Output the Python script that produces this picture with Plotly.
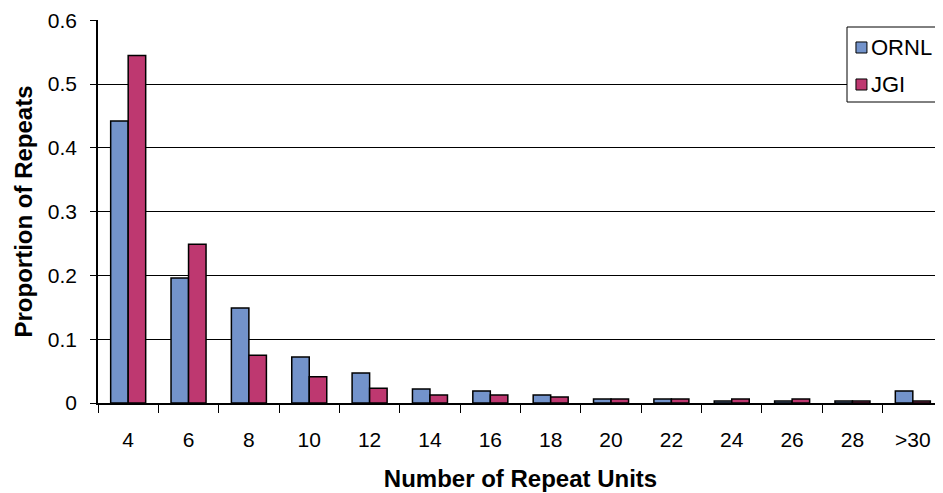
import plotly.graph_objects as go

categories = ["4", "6", "8", "10", "12", "14", "16", "18", "20", "22", "24", "26", "28", ">30"]
ornl = [0.442, 0.196, 0.149, 0.072, 0.047, 0.022, 0.019, 0.0125, 0.0063, 0.0063, 0.003, 0.003, 0.003, 0.019]
jgi = [0.545, 0.249, 0.075, 0.041, 0.023, 0.0125, 0.0125, 0.0094, 0.0063, 0.0063, 0.0063, 0.0063, 0.003, 0.003]
y_ticks = [0, 0.1, 0.2, 0.3, 0.4, 0.5, 0.6]
y_labels = ["0", "0.1", "0.2", "0.3", "0.4", "0.5", "0.6"]
series_names = ["ORNL", "JGI"]

FONT = "Liberation Sans, Arial, sans-serif"
COL_ORNL = "#7393CB"
COL_JGI = "#BE3870"

fig = go.Figure()
fig.add_trace(go.Bar(x=categories, y=ornl, name=series_names[0],
                     marker=dict(color=COL_ORNL, line=dict(color="black", width=1.5))))
fig.add_trace(go.Bar(x=categories, y=jgi, name=series_names[1],
                     marker=dict(color=COL_JGI, line=dict(color="black", width=1.5))))

# manual legend (box, swatches, labels) in paper coordinates
shapes = [
    dict(type="rect", xref="paper", yref="paper", x0=0.8864, x1=1.02, y0=0.7859, y1=0.9817,
         line=dict(color="black", width=1), fillcolor="white", layer="above"),
    dict(type="rect", xref="paper", yref="paper", x0=0.897, x1=0.910, y0=0.9138, y1=0.9426,
         line=dict(color="black", width=1), fillcolor=COL_ORNL, layer="above"),
    dict(type="rect", xref="paper", yref="paper", x0=0.897, x1=0.910, y0=0.8172, y1=0.8460,
         line=dict(color="black", width=1), fillcolor=COL_JGI, layer="above"),
]
annotations = [
    dict(text=series_names[0], xref="paper", yref="paper", x=0.9125, y=0.9282,
         xanchor="left", yanchor="middle", showarrow=False, font=dict(size=22)),
    dict(text=series_names[1], xref="paper", yref="paper", x=0.9125, y=0.8316,
         xanchor="left", yanchor="middle", showarrow=False, font=dict(size=22)),
]

# the page body adds an 8px margin, so the figure is 8px smaller and margins shrink by 8
fig.update_layout(
    width=935, height=485,
    margin=dict(l=90, r=0, t=12, b=90, autoexpand=False),
    paper_bgcolor="white", plot_bgcolor="white",
    barmode="group", bargap=0.42, bargroupgap=0,
    font=dict(family=FONT, size=21, color="black"),
    showlegend=False,
    shapes=shapes, annotations=annotations,
    xaxis=dict(
        type="category", automargin=False, showline=True, linecolor="black", linewidth=1.5,
        ticks="outside", tickson="boundaries", ticklen=8, tickcolor="black",
        tickwidth=1, ticklabelstandoff=17, showgrid=False,
        title=dict(text="<b>Number of Repeat Units</b>", font=dict(size=24), standoff=20),
    ),
    yaxis=dict(
        range=[0, 0.6005], tickvals=y_ticks, ticktext=y_labels, automargin=False,
        showline=True, linecolor="black", linewidth=1.5,
        ticks="outside", ticklen=6, tickcolor="black", tickwidth=1,
        ticklabelstandoff=9,
        showgrid=True, gridcolor="black", gridwidth=1, zeroline=False,
        title=dict(text="<b>Proportion of Repeats</b>", font=dict(size=24), standoff=8),
    ),
)

fig.write_html("out.html")
